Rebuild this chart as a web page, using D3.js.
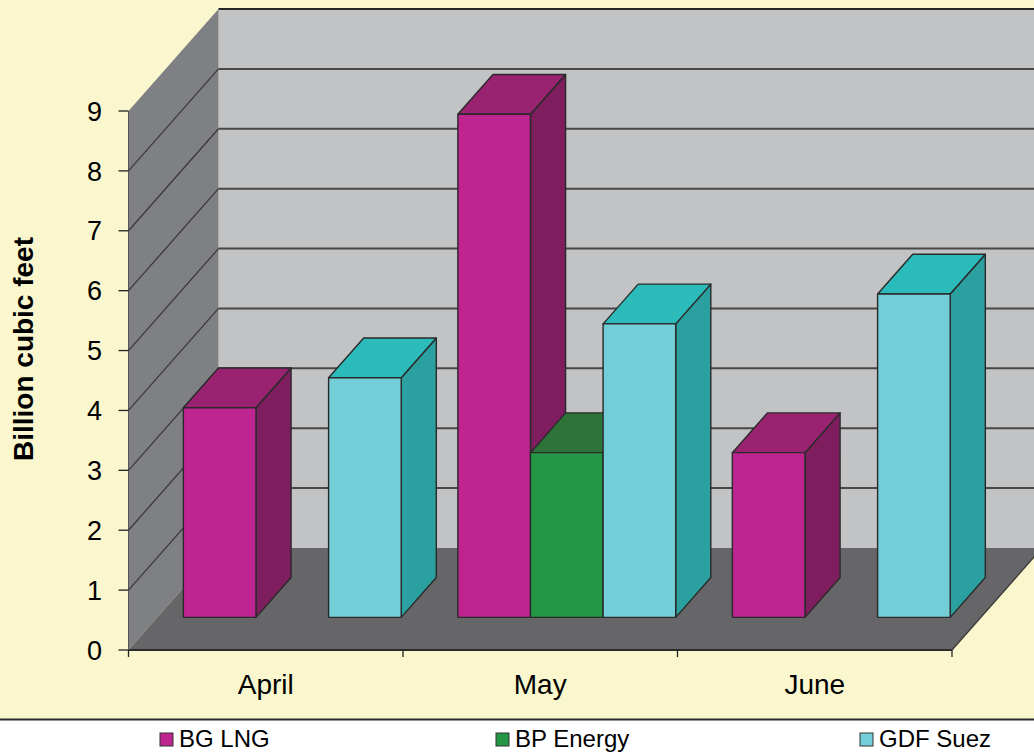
<!DOCTYPE html>
<html><head><meta charset="utf-8">
<script src="https://cdn.jsdelivr.net/npm/d3@7"></script>
<style>
html,body{margin:0;padding:0;background:#fff;}
svg{display:block;font-family:"Liberation Sans",Arial,sans-serif;}
</style></head>
<body>
<svg id="chart" width="1034" height="756"></svg>
<script>
const categories = ["April", "May", "June"];
const seriesNames = ["BG LNG", "BP Energy", "GDF Suez"];
const bgLng = [3.5, 8.4, 2.75];
const bpEnergy = [0, 2.75, 0];
const gdfSuez = [4.0, 4.9, 5.4];
const yTicks = [0,1,2,3,4,5,6,7,8,9];
const yTitle = "Billion cubic feet";

const seriesValues = [bgLng, bpEnergy, gdfSuez];
const colors = {
  "BG LNG":   {front:"#BE2590", top:"#9A2371", side:"#7F1E5F", legend:"#BE2590"},
  "BP Energy":{front:"#259645", top:"#2E733A", side:"#1E6A34", legend:"#259645"},
  "GDF Suez": {front:"#74CED8", top:"#2BBBBA", side:"#2AA1A0", legend:"#74CED8"}
};

const W = 1034, H = 756;
const DX = 90, DY = 102;         // full depth projection
const F1 = 0.32, F2 = 0.71;      // bar depth fractions
const svg = d3.select("#chart");

// background
svg.append("rect").attr("x",0).attr("y",0).attr("width",W).attr("height",720).attr("fill","#FAF7CE");
svg.append("rect").attr("x",0).attr("y",720).attr("width",W).attr("height",H-720).attr("fill","#ffffff");
svg.append("line").attr("x1",0).attr("x2",W).attr("y1",719.5).attr("y2",719.5).attr("stroke","#2b2b2b").attr("stroke-width",2);

const y = d3.scaleLinear().domain([0, 9]).range([650, 111]);
const x0 = d3.scaleBand().domain(categories).range([128.5, 952]).padding(0);
const x1 = d3.scaleBand().domain(seriesNames).range([0, x0.bandwidth()])
  .paddingInner(0).paddingOuter(0.39).align(0.46);

const P = (xf, v, f) => [xf + f*DX, y(v) - f*DY];
const poly = pts => "M" + pts.map(p => p[0] + "," + p[1]).join("L") + "Z";

const xL = x0.range()[0], xR = x0.range()[1];
const ymax = y.domain()[1];

// back wall
svg.append("path").attr("d", poly([P(xL,0,1), P(xL,ymax,1), [W+60, P(xL,ymax,1)[1]], [W+60, P(xL,0,1)[1]]]))
  .attr("fill","#C2C3C5");
// side wall
svg.append("path").attr("d", poly([P(xL,0,0), P(xL,ymax,0), P(xL,ymax,1), P(xL,0,1)]))
  .attr("fill","#7F8083");
// back gridlines
yTicks.filter(t => t > 0).forEach(t => {
  const b = P(xL, t, 1);
  svg.append("line").attr("x1", b[0]).attr("x2", W).attr("y1", b[1]).attr("y2", b[1])
    .attr("stroke", t === ymax ? "#262626" : "#474747").attr("stroke-width", 2);
  const a = P(xL, t, 0);
  if (t < ymax) {
    svg.append("line").attr("x1", a[0]).attr("y1", a[1]).attr("x2", b[0]).attr("y2", b[1])
      .attr("stroke","#3a3a3a").attr("stroke-width",1.3);
  }
});
// floor
svg.append("path").attr("d", poly([P(xL,0,0), P(xL,0,1), P(xR,0,1), P(xR,0,0)]))
  .attr("fill","#666668");
// floor front edge & right edge
svg.append("line").attr("x1", xL).attr("x2", xR).attr("y1", y(0)).attr("y2", y(0))
  .attr("stroke","#2a2a2a").attr("stroke-width",2);
svg.append("line").attr("x1", xR).attr("y1", y(0)).attr("x2", P(xR,0,1)[0]).attr("y2", P(xR,0,1)[1])
  .attr("stroke","#3a3a3a").attr("stroke-width",1.3);
// y axis line
svg.append("line").attr("x1", xL).attr("x2", xL).attr("y1", y(ymax)).attr("y2", y(0))
  .attr("stroke","#555","stroke-width",1).attr("stroke-width",1);

// bars
categories.forEach((c, ci) => {
  seriesNames.forEach((s, si) => {
    const v = seriesValues[si][ci];
    if (!v) return;
    const xa = x0(c) + x1(s), xb = xa + x1.bandwidth();
    const col = colors[s];
    const g = svg.append("g").attr("stroke","#2a2a2a").attr("stroke-width",1.4).attr("stroke-linejoin","round");
    g.append("path").attr("d", poly([P(xb,0,F1), P(xb,v,F1), P(xb,v,F2), P(xb,0,F2)])).attr("fill", col.side);
    g.append("path").attr("d", poly([P(xa,v,F1), P(xb,v,F1), P(xb,v,F2), P(xa,v,F2)])).attr("fill", col.top);
    g.append("path").attr("d", poly([P(xa,0,F1), P(xb,0,F1), P(xb,v,F1), P(xa,v,F1)])).attr("fill", col.front);
  });
});

// y ticks and labels
yTicks.forEach(t => {
  svg.append("line").attr("x1", xL - 10).attr("x2", xL).attr("y1", y(t)).attr("y2", y(t))
    .attr("stroke","#222").attr("stroke-width",1.3);
  svg.append("text").attr("x", 102).attr("y", y(t)).attr("dy","0.36em")
    .attr("text-anchor","end").attr("font-size",27).attr("fill","#000").text(t);
});
// x ticks
const xb = categories.map(c => x0(c)).concat([xR]);
xb.forEach(xx => {
  svg.append("line").attr("x1", xx).attr("x2", xx).attr("y1", y(0)).attr("y2", y(0) + 7)
    .attr("stroke","#222").attr("stroke-width",1.3);
});
categories.forEach(c => {
  svg.append("text").attr("x", x0(c) + x0.bandwidth()/2).attr("y", 694)
    .attr("text-anchor","middle").attr("font-size",28).attr("fill","#000").text(c);
});
// y title
svg.append("text").attr("transform","translate(33,349) rotate(-90)")
  .attr("text-anchor","middle").attr("font-size",28).attr("font-weight","bold").attr("fill","#000").text(yTitle);

// legend
const legendX = [160, 496, 860];
seriesNames.forEach((s, i) => {
  svg.append("rect").attr("x", legendX[i]).attr("y", 733).attr("width", 13).attr("height", 13)
    .attr("fill", colors[s].legend).attr("stroke","#333").attr("stroke-width",1);
  svg.append("text").attr("x", legendX[i] + 19).attr("y", 747).attr("font-size",24)
    .attr("fill","#000").text(s);
});
</script>
</body></html>
